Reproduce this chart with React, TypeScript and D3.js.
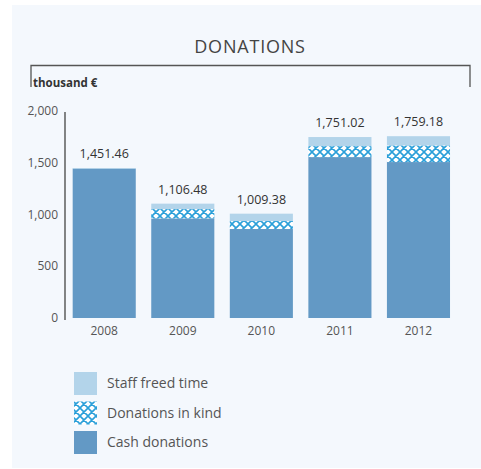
import React from "react";
import * as d3 from "d3";

const years = ["2008", "2009", "2010", "2011", "2012"];
const cashDonations = [1446, 964, 861, 1557, 1509];
const donationsInKind = [0, 90, 77, 106, 161];
const staffFreedTime = [5.46, 52.48, 71.38, 88.02, 89.18];
const totals = ["1,451.46", "1,106.48", "1,009.38", "1,751.02", "1,759.18"];
const yTicks = [0, 500, 1000, 1500, 2000];
const seriesNames = ["Staff freed time", "Donations in kind", "Cash donations"];

const W = 481;
const H = 469;
const FONT = "'Open Sans', 'Noto Sans', sans-serif";

export default function App() {
  const x = d3.scaleBand<string>().domain(years).range([66, 456.7]).paddingInner(0.197).paddingOuter(0.085);
  const y = d3.scaleLinear().domain([0, 2000]).range([318, 111.3]);

  const rows = years.map((yr, i) => {
    const c = cashDonations[i];
    const k = donationsInKind[i];
    const s = staffFreedTime[i];
    return { yr, segs: [
      { key: "cash", y0: 0, y1: c },
      { key: "kind", y0: c, y1: c + k },
      { key: "staff", y0: c + k, y1: c + k + s },
    ], total: c + k + s, label: totals[i] };
  });

  const fills: Record<string, string> = {
    cash: "#6399c5",
    kind: "url(#hatch)",
    staff: "#b3d4ea",
  };

  const legendFills = [fills.staff, fills.kind, fills.cash];

  return (
    <svg width={W} height={H} style={{ position: "absolute", left: 0, top: 0 }}>
      <defs>
        <pattern id="hatch" patternUnits="userSpaceOnUse" width={8} height={8}>
          <rect width={8} height={8} fill="#ffffff" />
          <path d="M0,0 L8,8 M8,0 L0,8 M-1,7 L1,9 M7,-1 L9,1 M-1,1 L1,-1 M7,9 L9,7" stroke="#2a9fd9" strokeWidth={1.6} />
        </pattern>
      </defs>
      <rect x={12} y={5} width={W - 12} height={463} fill="#f4f8fd" />
      <text x={250} y={53} textAnchor="middle" fontFamily={FONT} fontSize={18} letterSpacing={0.8} fill="#444">DONATIONS</text>
      <path d="M31,87 V65.5 H470 V87" fill="none" stroke="#555" strokeWidth={1.3} />
      <text x={33} y={87} fontFamily={FONT} fontSize={11.5} fontWeight="bold" fill="#333">thousand €</text>

      <line x1={65} x2={65} y1={112} y2={320} stroke="#444" strokeWidth={1.3} />
      {yTicks.map((t) => (
        <text key={t} x={58} y={y(t) + 4} textAnchor="end" fontFamily={FONT} fontSize={12} fill="#555">
          {d3.format(",")(t)}
        </text>
      ))}

      {rows.map((r) => (
        <g key={r.yr}>
          {r.segs.filter((s) => s.y1 > s.y0).map((s) => (
            <rect key={s.key} x={x(r.yr)} width={x.bandwidth()} y={y(s.y1)} height={y(s.y0) - y(s.y1)} fill={fills[s.key]} />
          ))}
          <text x={(x(r.yr) as number) + x.bandwidth() / 2} y={y(r.total) - 10} textAnchor="middle" fontFamily={FONT} fontSize={12.5} fill="#333">
            {r.label}
          </text>
          <text x={(x(r.yr) as number) + x.bandwidth() / 2} y={335} textAnchor="middle" fontFamily={FONT} fontSize={12} fill="#555">
            {r.yr}
          </text>
        </g>
      ))}

      {seriesNames.map((n, i) => (
        <g key={n}>
          <rect x={74} y={372 + i * 29.5} width={23} height={23} fill={legendFills[i]} />
          <text x={107} y={388 + i * 29.5} fontFamily={FONT} fontSize={14} fill="#555">{n}</text>
        </g>
      ))}
    </svg>
  );
}
